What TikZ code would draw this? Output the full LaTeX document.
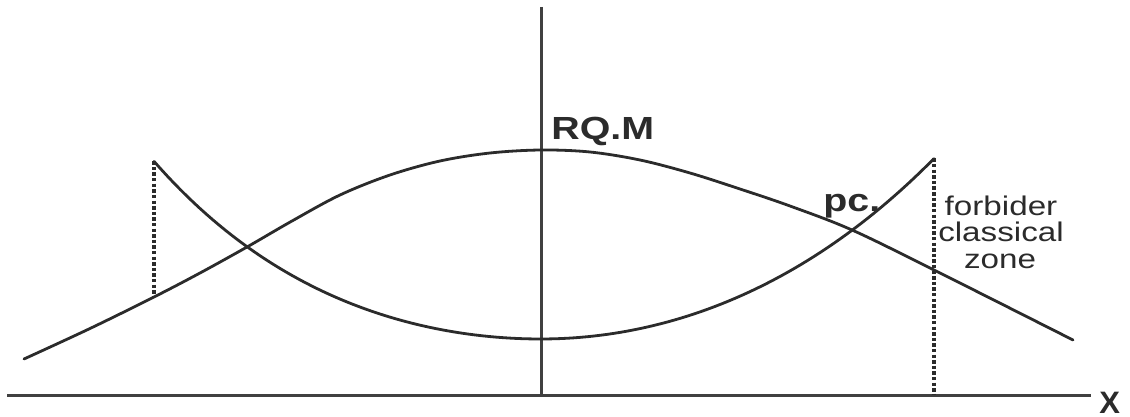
\documentclass[tikz,border=0pt]{standalone}
\usepackage{fontspec}
\usepackage{graphicx}
\setmainfont{Liberation Sans}
\definecolor{ink}{HTML}{2B2B2B}
\tikzset{
  curve/.style={draw=ink, line width=1.4pt, line join=round, line cap=round},
  axis/.style={draw=ink!90, line width=1.5pt},
  guide/.style={draw=ink, line width=2pt, dash pattern=on 1.7pt off 1.1pt},
  lbl/.style={inner sep=0pt, text=ink},
}
\newcommand{\wide}[1]{\scalebox{1.23}[1]{#1}}
\begin{document}
\begin{tikzpicture}[x=0.5pt,y=-0.5pt]
\useasboundingbox (0,0) rectangle (1130,417);
% axes
\coordinate (xl) at (7,395);
\coordinate (xr) at (1091,395);
\coordinate (yt) at (541,7);
\coordinate (yb) at (541,395);
\draw[axis] (xl) -- (xr);
\draw[axis] (yt) -- (yb);
% key points
\coordinate (Lpk) at (154,161.3);
\coordinate (Lfoot) at (154,297);
\coordinate (Rpk) at (934,158.5);
\coordinate (Rfoot) at (934,395);
% quantum curve (upper)
\draw[curve] plot[smooth, tension=0.55] coordinates {
 (24,359) (90,328.5) (154,297) (200,273) (247,247) (292,221) (340,195)
 (390,175) (440,161) (490,153) (541,150) (590,152) (640,160) (690,173)
 (740,189) (790,206) (852,230) (934,270) (1073,340)};
% classical curve (lower)
\draw[curve] (Lpk)
  plot[domain=154:541, samples=60] (\x, {339 - 89.3*(cosh((541-\x)/220)-1)})
  -- plot[domain=541:934, samples=60] (\x, {339 - 258*(cosh((\x-541)/350)-1)});
% turning point guides
\draw[guide] (Lpk) -- (Lfoot);
\draw[guide] (Rpk) -- (Rfoot);
% labels
\node[lbl, anchor=base west, font=\bfseries\fontsize{16}{16}\selectfont] (rqm) at (551,140) {\wide{RQ.M}};
\node[lbl, anchor=base west, font=\bfseries\fontsize{16}{16}\selectfont] (pc) at (823,212) {\wide{pc.}};
\node[lbl, anchor=base, font=\fontsize{13.5}{13.5}\selectfont] (fz1) at (1001,215) {\wide{forbider}};
\node[lbl, anchor=base, font=\fontsize{13.5}{13.5}\selectfont] (fz2) at (1001,242) {\wide{classical}};
\node[lbl, anchor=base, font=\fontsize{13.5}{13.5}\selectfont] (fz3) at (1000,268) {\wide{zone}};
\node[lbl, anchor=base west, font=\bfseries\fontsize{15.5}{15.5}\selectfont] (X) at (1099,413) {X};
\end{tikzpicture}
\end{document}
